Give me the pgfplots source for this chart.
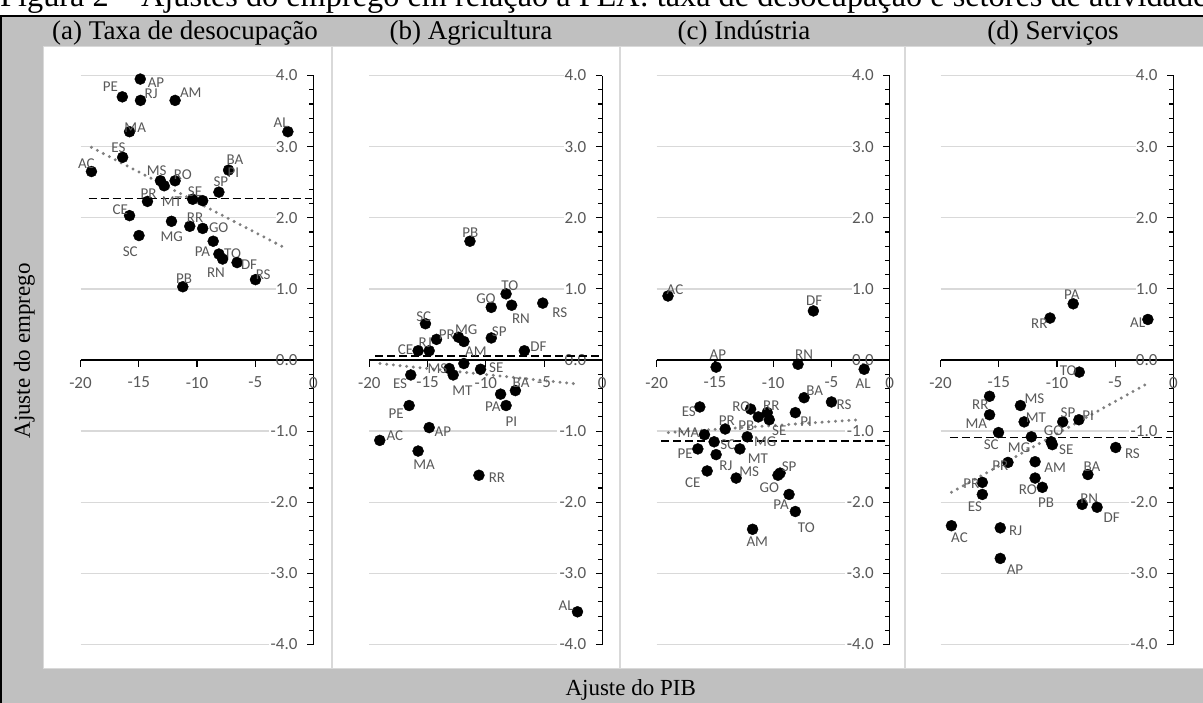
\documentclass[border=0pt]{standalone}
\usepackage{pgfplots}
\usepackage{pgfplotstable}
\pgfplotsset{compat=1.18}
\usepackage{fontspec}
\setmainfont{Liberation Serif}
\newfontfamily\calibri{Carlito}

\definecolor{framegray}{HTML}{C0C0C0}
\definecolor{gridgray}{HTML}{D9D9D9}
\definecolor{labgray}{HTML}{595959}
\definecolor{dotgray}{HTML}{808080}

% x y label dx dy  (dx, dy: label offset from the point, in pt)
\pgfplotstableread{
x y lab dx dy
-14.87 3.95 AP 15.7 -3.3
-16.41 3.70 PE -12 10
-14.85 3.65 RJ 10.7 6.3
-11.88 3.65 AM 15.7 7.3
-15.79 3.21 MA 5.7 4.3
-2.20 3.21 AL -6.7 9.3
-16.38 2.85 ES -4.3 9.3
-19.06 2.65 AC -5 7.7
-7.29 2.67 BA 6.3 10
-13.14 2.52 MS -3.7 10
-12.82 2.45 MT 7.7 -15.7
-11.88 2.52 RO 7.7 6.3
-8.12 2.36 SP 2 10.3
-10.37 2.26 SE 2.3 7.7
-9.51 2.24 PI 30.7 28.3
-14.25 2.23 PR 1 7.3
-15.79 2.03 CE -9.3 5.7
-12.19 1.95 MG 0.3 -15.3
-10.62 1.88 RR 5.3 8.3
-9.51 1.85 GO 16 1
-14.98 1.75 SC -8.7 -16
-8.61 1.67 PA -10.7 -10.3
-8.12 1.49 TO 13.7 0.7
-7.80 1.42 RN -6.7 -14
-6.56 1.37 DF 12 -2
-4.98 1.13 RS 7.7 4.7
-11.22 1.03 PB 1.3 8.3
}\tabA

\pgfplotstableread{
x y lab dx dy
-11.36 1.67 PB 0.3 8.7
-8.26 0.93 TO 3.7 7.7
-9.53 0.74 GO -5.3 8.7
-7.78 0.77 RN 9.3 -13.3
-5.11 0.80 RS 17 -9.3
-15.18 0.51 SC -1.7 7.3
-14.23 0.29 PR 10.3 4.3
-12.34 0.32 MG 7.7 7.3
-11.88 0.26 {} 0 0
-9.53 0.31 SP 8 6
-14.86 0.13 RJ -4 8.3
-15.81 0.13 CE -12.7 1.3
-6.69 0.13 DF 14 4.3
-11.88 -0.05 AM 12 12
-13.14 -0.12 MS -11.7 -0.3
-12.80 -0.21 MT 9.3 -15.3
-10.45 -0.13 SE 15.7 1.7
-16.44 -0.21 ES -10.7 -8.3
-7.46 -0.43 BA 5.7 7.7
-8.73 -0.48 PA -7.7 -13
-8.26 -0.64 PI 5.3 -15.7
-16.58 -0.64 PE -13 -7.7
-14.86 -0.95 AP 13.7 -3.7
-19.10 -1.13 AC 15 4.7
-15.81 -1.28 MA 6 -13.3
-10.59 -1.62 RR 18 -2
-2.13 -3.54 AL -11.3 6
}\tabB

\pgfplotstableread{
x y lab dx dy
-19.03 0.90 AC 7 6.7
-6.55 0.69 DF 0.7 10
-14.90 -0.10 AP 1.7 12.7
-7.87 -0.06 RN 6 9.3
-2.19 -0.13 AL -1 -14
-7.35 -0.53 BA 10.7 6.7
-5.00 -0.59 RS 12.7 -2.3
-16.30 -0.66 ES -11 -4.3
-11.94 -0.69 RO -9.3 2.7
-10.51 -0.74 RR 4 7
-11.28 -0.80 PB -12 -8.3
-10.34 -0.84 SE 10 -11
-8.10 -0.74 PI 10.7 -9
-14.12 -0.97 PR 1.7 8.3
-12.23 -1.08 MG 18 -5
-15.90 -1.05 MA -16 1.7
-15.07 -1.15 SC 13.7 -3
-16.47 -1.25 PE -12.7 -4.7
-12.86 -1.25 MT 18 -9.7
-14.90 -1.33 RJ 9.7 -11.3
-15.67 -1.56 CE -14.3 -12
-13.18 -1.66 MS 13 6
-9.41 -1.59 SP 9 6.3
-9.59 -1.62 GO -8.7 -12.3
-8.64 -1.89 PA -8 -10
-8.10 -2.13 TO 11 -15.7
-11.77 -2.38 AM 4.7 -12.7
}\tabC

\pgfplotstableread{
x y lab dx dy
-8.61 0.79 PA -1.3 9.3
-10.60 0.59 RR -10.7 -5.3
-2.20 0.57 AL -10.3 -3.7
-8.09 -0.17 TO -11 1
-15.79 -0.51 RR -9.3 -8.3
-13.14 -0.64 MS 14 6.7
-15.79 -0.77 MA -13.3 -9.3
-12.82 -0.87 MT 11.7 4.3
-9.51 -0.87 SP 5.3 9.7
-8.12 -0.84 PI 9.3 4
-15.02 -1.02 SC -7.3 -12.3
-12.20 -1.08 MG -12.3 -11.3
-10.50 -1.15 GO 2.3 10.7
-10.40 -1.19 SE 14 -4.7
-4.96 -1.23 RS 16.7 -6
-14.21 -1.44 PR -7.7 -3.3
-11.88 -1.43 AM 20 -6
-7.35 -1.61 BA 4 7.7
-16.41 -1.72 PR -11 -1
-11.88 -1.66 RO -7.3 -11.3
-11.26 -1.79 PB 3.7 -15
-16.41 -1.89 ES -7.3 -12.3
-7.84 -2.03 RN 7 5.3
-6.56 -2.07 DF 14.7 -10.7
-19.06 -2.33 AC 8 -12.3
-14.87 -2.36 RJ 15.3 -2.7
-14.87 -2.79 AP 14.7 -11.7
}\tabD

\pgfplotsset{
  panel/.style={
    scale only axis, width=233pt, height=569pt,
    xmin=-20, xmax=0, ymin=-4, ymax=4,
    axis x line=middle, axis y line=middle,
    axis line style={-, black, line width=1.3pt},
    hide obscured x ticks=false, hide obscured y ticks=false,
    xtick={-20,-15,-10,-5,0}, ytick={-4,-3,...,4},
    minor y tick num=4,
    tick align=outside,
    major tick length=6.5pt, minor tick length=4.5pt,
    every tick/.style={black, line width=1.1pt},
    ticklabel style={font=\fontsize{17}{20}\selectfont\calibri, text=labgray},
    /pgf/number format/assume math mode=true,
    xticklabel style={yshift=-7pt},
    yticklabel style={xshift=-6pt, /pgf/number format/fixed,
      /pgf/number format/fixed zerofill, /pgf/number format/precision=1},
    clip=false,
  },
  states/.style={
    only marks, mark=*, mark size=5.5pt, black,
    nodes near coords, point meta=explicit symbolic,
    visualization depends on={\thisrow{dx}\as\dx},
    visualization depends on={\thisrow{dy}\as\dy},
    nodes near coords style={anchor=center, inner sep=0pt,
      xshift=\dx pt, yshift=\dy pt,
      font=\fontsize{15}{17}\selectfont\calibri, text=labgray},
  },
  meanline/.style={black, line width=1.8pt, dash pattern=on 8pt off 4pt},
  trendline/.style={dotgray, line width=3.3pt, line cap=round, dash pattern=on 0pt off 6.7pt},
}

\newcommand{\grids}{%
  \pgfplotsinvokeforeach{1,2,3,4}{\draw[gridgray, line width=1.3pt] (axis cs:-20,##1) -- (axis cs:-3.25,##1);}%
  \pgfplotsinvokeforeach{-1,-2,-3,-4}{\draw[gridgray, line width=1.3pt] (axis cs:-20,##1) -- (axis cs:-3.85,##1);}%
}

\begin{document}
\begin{tikzpicture}
\path[use as bounding box] (0pt,0pt) rectangle (1203pt,-702pt);
\clip (0pt,0pt) rectangle (1203pt,-702pt);

\begin{scope}[x=1pt, y=1pt]
% frame
\fill[framegray] (1,-16) rectangle (1210,-710);
\draw[black, line width=1.2pt] (1,-710) -- (1,-16) -- (1210,-16);
\foreach \a/\b in {43/331, 332/619, 620/904, 905/1215}
  \filldraw[fill=white, draw=gridgray, line width=1pt] (\a,-46) rectangle (\b,-668);

% title and headers
\node[anchor=base west, inner sep=0pt, font=\fontsize{32.3}{36}\selectfont] at (0,-6)
  {Figura 2 – Ajustes do emprego em relação à PEA: taxa de desocupação e setores de atividade};
\foreach \cx/\t in {185/(a) Taxa de desocupação, 471/(b) Agricultura, 744/(c) Indústria, 1053/(d) Serviços}
  \node[anchor=base, inner sep=0pt, font=\fontsize{27}{30}\selectfont] at (\cx,-39) {\t};
\node[anchor=base, inner sep=0pt, font=\fontsize{23}{26}\selectfont] at (630.7,-695) {Ajuste do PIB};
\node[anchor=base, rotate=90, inner sep=0pt, font=\fontsize{23}{26}\selectfont] at (30,-351) {Ajuste do emprego};
\end{scope}

% (a) Taxa de desocupacao
\begin{axis}[panel, at={(80.5pt,-644.5pt)}, anchor=south west]
  \grids
  \addplot[states] table[x=x, y=y, meta=lab] {\tabA};
  \addplot[meanline] coordinates {(-19.3,2.27) (-0.1,2.27)};
  \addplot[trendline] coordinates {(-19.06,2.99) (-2.26,1.56)};
\end{axis}

% (b) Agricultura
\begin{axis}[panel, at={(369.3pt,-644.5pt)}, anchor=south west]
  \grids
  \addplot[states] table[x=x, y=y, meta=lab] {\tabB};
  \addplot[meanline] coordinates {(-19.5,0.056) (-0.1,0.056)};
  \addplot[trendline] coordinates {(-19.08,-0.05) (-2.01,-0.34)};
\end{axis}

% (c) Industria
\begin{axis}[panel, at={(656.7pt,-644.5pt)}, anchor=south west]
  \grids
  \addplot[states] table[x=x, y=y, meta=lab] {\tabC};
  \addplot[meanline] coordinates {(-19.6,-1.14) (-0.1,-1.14)};
  \addplot[trendline] coordinates {(-19.0,-1.02) (-2.65,-0.84)};
\end{axis}

% (d) Servicos
\begin{axis}[panel, at={(940.5pt,-644.5pt)}, anchor=south west]
  \grids
  \addplot[states] table[x=x, y=y, meta=lab] {\tabD};
  \addplot[meanline] coordinates {(-19.2,-1.09) (-0.1,-1.09)};
  \addplot[trendline] coordinates {(-19.06,-1.86) (-2.45,-0.35)};
\end{axis}
\end{tikzpicture}
\end{document}
